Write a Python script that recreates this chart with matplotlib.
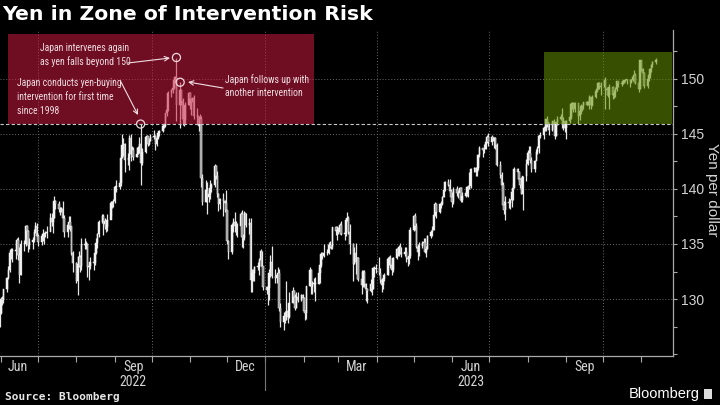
import numpy as np
import pandas as pd
import matplotlib
matplotlib.use('Agg')
import matplotlib.pyplot as plt
import matplotlib.dates as mdates
from matplotlib.patches import Rectangle
from matplotlib.lines import Line2D
from matplotlib import font_manager as fm
from matplotlib.ticker import FixedLocator, MultipleLocator

# ---------------- data (USD/JPY daily) ----------------
first_open = 128.0

close_2022 = [
    128.7,  # May 31
    130.0, 129.9, 130.9, 131.9, 132.6, 134.2, 134.4, 134.4, 134.4, 135.4, 134.0, 132.2, 135.0, 135.0, 136.6, 136.2, 134.9, 135.2, 135.4, 136.1, 136.6, 135.7,
    135.2, 135.7, 135.9, 135.9, 136.0, 136.1, 137.4, 137.0, 137.4, 138.9, 138.6, 138.2, 138.2, 138.2, 137.4, 136.1, 136.7, 137.0, 136.6, 134.2, 133.3,
    131.6, 133.2, 133.8, 133.0, 135.0, 134.9, 135.0, 132.9, 133.0, 133.4, 133.3, 134.2, 135.1, 135.9, 137.0, 137.5, 136.8, 137.1, 136.5, 137.2, 138.7, 138.8, 138.9,
    140.2, 140.2, 140.5, 142.8, 144.0, 144.1, 142.6, 142.8, 144.6, 143.2, 143.5, 142.9, 143.2, 143.7, 144.1, 142.4, 143.4, 144.7, 144.8, 144.1, 144.4, 144.7,
    144.8, 144.1, 144.6, 145.1, 145.3, 145.7, 145.7, 146.9, 147.2, 148.7, 149.0, 149.2, 149.9, 150.2, 147.6, 149.0, 148.0, 146.4, 146.3, 147.6, 148.7,
    148.2, 147.9, 148.3, 146.6, 146.6, 145.7, 146.4, 141.0, 138.8, 139.9, 139.3, 139.5, 140.1, 140.4, 142.1, 141.2, 139.5, 138.6, 139.1, 138.9, 138.7, 138.1,
    135.3, 134.3, 136.7, 137.0, 136.6, 136.6, 136.6, 137.7, 135.6, 135.5, 137.8, 136.7, 136.9, 131.7, 132.4, 132.4, 132.9, 132.9, 133.5, 134.4, 133.0, 131.1,
]
high_2022 = [
    128.9,
    130.2, 130.3, 130.9, 132.0, 133.0, 134.5, 134.6, 134.6, 135.2, 135.5, 135.6, 134.7, 135.4, 135.4, 136.7, 136.7, 136.3, 135.5, 135.6, 136.4, 137.0, 136.9,
    135.9, 135.9, 136.4, 136.0, 136.2, 136.6, 137.8, 137.8, 137.6, 139.4, 139.0, 138.9, 138.4, 138.4, 138.9, 137.6, 136.8, 137.5, 137.5, 136.6, 134.4,
    133.4, 133.9, 134.4, 134.0, 135.5, 135.5, 135.3, 135.1, 133.3, 133.8, 133.8, 134.6, 135.5, 136.0, 137.2, 137.7, 137.7, 137.4, 137.2, 137.7, 138.9, 138.9, 139.1,
    140.3, 140.8, 140.8, 143.1, 145.0, 144.6, 144.2, 143.3, 144.9, 145.0, 143.9, 143.8, 143.8, 143.9, 144.7, 145.9, 143.7, 144.8, 144.9, 144.8, 144.6, 145.0,
    145.4, 144.9, 144.9, 145.3, 145.4, 145.9, 146.0, 146.9, 147.7, 148.9, 149.1, 149.3, 149.9, 150.3, 151.9, 149.7, 149.1, 148.3, 146.9, 147.9, 148.8,
    148.8, 148.3, 148.4, 148.5, 147.4, 146.6, 146.8, 146.6, 141.4, 140.8, 140.6, 139.8, 140.8, 140.5, 142.3, 142.2, 141.6, 139.6, 139.2, 139.6, 139.0, 139.9,
    138.1, 135.4, 136.9, 137.4, 137.9, 137.1, 136.9, 137.9, 138.1, 135.9, 138.0, 137.8, 137.4, 137.4, 132.7, 132.7, 133.0, 133.4, 133.7, 134.5, 134.4, 133.0,
]
low_2022 = [
    127.5,
    128.6, 129.5, 129.6, 130.6, 131.8, 132.5, 133.6, 133.4, 133.6, 134.1, 133.5, 131.5, 132.2, 134.4, 134.8, 135.2, 134.3, 134.5, 134.5, 135.2, 136.0, 135.5,
    134.8, 134.9, 135.3, 135.0, 135.6, 135.5, 136.2, 136.6, 136.0, 137.4, 138.2, 137.9, 137.6, 137.9, 137.3, 135.6, 135.6, 136.4, 136.2, 134.0, 132.5,
    131.5, 130.4, 132.9, 132.5, 132.6, 134.5, 134.5, 132.0, 131.7, 132.7, 132.6, 133.1, 134.1, 134.6, 135.6, 136.9, 135.8, 136.4, 136.1, 136.2, 137.5, 138.3, 138.4,
    138.7, 139.7, 140.0, 140.3, 142.8, 143.0, 141.5, 142.2, 141.7, 142.5, 143.0, 142.6, 142.9, 143.2, 143.3, 140.4, 142.2, 143.3, 144.3, 143.9, 144.0, 144.4,
    144.5, 143.5, 143.9, 144.5, 144.8, 145.2, 145.5, 145.6, 146.6, 147.1, 148.4, 148.7, 149.1, 149.7, 146.2, 145.5, 147.6, 145.8, 145.7, 145.9, 147.6,
    147.3, 146.7, 147.3, 146.4, 145.9, 145.3, 145.2, 140.2, 138.5, 138.8, 137.7, 138.8, 139.1, 139.7, 140.2, 140.9, 139.3, 138.0, 138.2, 137.5, 137.9, 137.9,
    135.0, 133.6, 134.1, 136.1, 136.1, 135.8, 135.6, 136.3, 134.7, 134.6, 135.4, 136.5, 135.9, 130.6, 130.6, 131.6, 131.6, 132.6, 132.2, 133.0, 132.8, 130.8,
]

close_2023 = [
    130.8, 131.0, 132.4, 133.4, 132.1, 131.9, 132.2, 132.4, 129.2, 127.9, 128.5, 128.1, 128.9, 128.4, 129.6, 130.7, 130.2, 129.2, 130.2, 129.9, 130.4, 130.1,
    128.9, 128.7, 131.2, 132.6, 131.1, 131.4, 131.4, 131.4, 132.4, 133.1, 134.1, 133.9, 134.2, 134.2, 134.9, 134.9, 134.7, 136.5, 136.2, 136.2,
    136.1, 136.7, 135.9, 135.9, 137.2, 137.4, 136.1, 135.0, 133.2, 134.2, 133.4, 133.7, 131.8, 131.3, 132.5, 131.4, 130.9, 130.7, 131.4, 130.9, 132.8, 132.7, 132.8,
    132.4, 131.7, 131.3, 131.8, 132.2, 133.6, 133.7, 133.1, 132.6, 133.7, 134.5, 134.1, 134.7, 134.2, 134.1, 134.3, 133.7, 133.6, 133.9, 136.3,
    137.5, 136.6, 134.7, 134.3, 134.8, 135.1, 135.2, 134.3, 134.5, 135.7, 136.1, 136.3, 137.6, 138.6, 137.9, 138.6, 138.6, 139.3, 139.9, 140.6, 140.4, 139.8, 139.3,
    138.8, 140.0, 139.6, 139.6, 140.1, 139.0, 139.4, 139.6, 140.2, 140.0, 140.3, 141.8, 141.9, 141.5, 141.9, 143.1, 143.7, 143.5, 143.6, 144.3, 144.7, 144.3,
    144.7, 144.5, 144.6, 144.0, 142.2, 141.3, 140.4, 138.5, 138.1, 138.8, 138.7, 139.0, 139.7, 140.1, 141.8, 141.5, 140.9, 140.4, 139.5, 141.2, 142.3,
    143.3, 143.3, 142.6, 141.8, 142.5, 143.4, 143.7, 144.8, 144.9, 145.5, 145.6, 146.4, 146.1, 145.4, 146.2, 145.9, 144.8, 146.1, 146.4, 146.5, 145.9, 146.2, 145.5,
    146.2, 146.5, 147.7, 147.7, 147.3, 147.8, 146.6, 147.1, 147.5, 147.5, 147.9, 147.6, 147.9, 148.4, 147.6, 148.4, 148.9, 149.1, 149.6, 149.3, 149.4,
    149.9, 149.0, 149.1, 148.5, 149.3, 148.5, 148.7, 149.1, 149.8, 149.6, 149.5, 149.8, 149.8, 149.9, 149.9, 149.7, 149.9, 150.2, 150.4, 149.6, 149.1, 151.7,
    150.9, 150.5, 149.4, 150.0, 150.4, 150.9, 151.3, 151.5, 151.7,
]
high_2023 = [
    131.2, 131.0, 132.7, 134.0, 134.8, 132.7, 132.3, 132.9, 132.7, 129.6, 128.8, 128.9, 131.6, 129.0, 130.6, 131.1, 130.8, 130.5, 130.6, 130.6, 130.5, 130.5,
    130.2, 129.0, 131.2, 132.9, 132.7, 131.6, 131.9, 132.0, 132.9, 133.3, 134.3, 134.3, 135.0, 134.5, 135.2, 135.3, 134.9, 136.5, 136.6, 136.6,
    136.5, 136.9, 137.1, 136.2, 137.4, 137.9, 137.5, 136.8, 135.1, 134.7, 135.1, 133.8, 133.8, 132.6, 132.6, 132.6, 131.5, 131.0, 131.8, 131.5, 132.9, 133.0, 133.2,
    133.8, 132.8, 131.9, 132.0, 132.4, 133.8, 133.9, 134.0, 133.4, 133.8, 134.6, 134.7, 134.9, 135.1, 134.7, 134.7, 134.7, 133.9, 134.2, 136.5,
    137.6, 137.8, 136.9, 135.0, 135.2, 135.3, 135.5, 135.5, 134.8, 135.8, 136.3, 136.6, 137.7, 138.8, 138.7, 138.7, 138.9, 139.4, 140.2, 140.7, 140.9, 140.9, 140.0,
    139.7, 140.2, 140.3, 139.9, 140.2, 140.2, 139.7, 139.8, 140.3, 140.4, 141.5, 141.9, 142.0, 142.0, 141.9, 143.2, 143.9, 143.7, 144.1, 144.5, 144.9, 145.1,
    144.9, 144.7, 144.7, 144.7, 144.2, 142.5, 141.5, 140.6, 138.9, 139.4, 139.2, 139.1, 140.0, 140.5, 142.0, 141.9, 141.6, 141.0, 141.1, 141.2, 142.7,
    143.5, 143.9, 143.9, 142.9, 142.6, 143.6, 143.9, 144.9, 145.2, 145.6, 145.9, 146.4, 146.6, 146.0, 146.2, 146.4, 146.0, 146.1, 146.6, 146.8, 147.4, 146.5, 146.2,
    146.3, 146.6, 147.8, 147.9, 147.9, 147.9, 147.0, 147.2, 147.7, 147.6, 147.9, 148.0, 148.0, 148.5, 148.4, 148.5, 149.0, 149.2, 149.7, 149.7, 149.7,
    149.9, 150.2, 149.3, 149.3, 149.5, 149.4, 149.0, 149.3, 149.8, 149.8, 149.7, 149.9, 149.9, 150.0, 150.0, 150.0, 150.0, 150.3, 150.8, 150.5, 149.8, 151.7,
    151.7, 151.0, 150.6, 150.2, 150.6, 151.0, 151.4, 151.6, 151.9,
]
low_2023 = [
    130.5, 129.5, 129.9, 132.0, 131.9, 131.5, 131.5, 131.8, 128.9, 127.5, 127.2, 127.8, 128.1, 127.8, 128.3, 129.6, 129.8, 129.0, 129.2, 129.7, 129.8, 129.9,
    128.8, 128.1, 128.2, 131.2, 130.5, 130.5, 130.6, 129.8, 131.4, 131.5, 132.9, 133.6, 133.8, 134.0, 134.1, 134.6, 134.5, 134.5, 135.8, 135.4,
    135.9, 135.9, 135.8, 135.4, 135.7, 137.1, 135.9, 134.1, 131.6, 133.2, 132.3, 131.8, 131.6, 130.5, 131.1, 131.1, 129.8, 129.6, 130.6, 130.4, 130.9, 132.0, 132.4,
    132.2, 131.5, 130.6, 130.9, 131.6, 132.2, 133.1, 132.8, 132.2, 132.5, 133.6, 133.9, 133.9, 134.1, 133.8, 133.9, 133.4, 133.0, 133.2, 133.7,
    136.2, 136.3, 134.6, 133.5, 133.9, 134.6, 134.8, 134.2, 133.8, 134.5, 135.5, 135.7, 136.3, 137.5, 137.4, 137.8, 138.3, 138.5, 139.3, 139.8, 140.3, 139.6, 138.9,
    138.4, 138.6, 139.4, 139.2, 139.0, 138.8, 138.8, 139.3, 139.4, 139.3, 140.0, 140.1, 141.5, 141.2, 141.2, 141.7, 142.9, 142.9, 143.3, 143.6, 144.2, 143.9,
    144.0, 144.4, 143.7, 143.6, 142.1, 141.0, 139.8, 138.2, 137.7, 137.2, 138.3, 138.2, 138.4, 139.0, 140.1, 140.9, 140.6, 140.1, 139.5, 138.1, 140.7,
    142.2, 142.8, 142.4, 141.5, 141.5, 142.6, 143.2, 143.3, 144.6, 144.5, 145.3, 145.3, 145.6, 144.9, 145.3, 145.5, 144.5, 144.8, 145.8, 146.3, 145.5, 145.4, 145.2,
    144.5, 146.0, 146.4, 147.3, 147.0, 147.0, 145.9, 146.3, 146.8, 147.1, 147.3, 147.6, 147.6, 147.3, 147.3, 147.5, 148.3, 148.8, 149.1, 149.1, 148.5,
    149.3, 147.3, 148.5, 148.4, 147.3, 148.2, 148.3, 148.4, 148.9, 149.3, 149.4, 149.5, 149.6, 149.7, 149.5, 149.3, 149.6, 149.8, 150.1, 149.5, 148.8, 149.1,
    150.7, 150.2, 149.2, 149.2, 149.8, 150.1, 150.6, 151.1, 151.4,
]

month_labels = ['Jun', 'Sep', 'Dec', 'Mar', 'Jun', 'Sep']
month_label_dates = ['2022-06-15', '2022-09-16', '2022-12-16', '2023-03-16', '2023-06-16', '2023-09-16']
year_labels = ['2022', '2023']
year_label_dates = ['2022-09-16', '2023-06-16']
y_ticks = [130, 135, 140, 145, 150]

intervention_dates = ['2022-09-22', '2022-10-21', '2022-10-24']
intervention_levels = [145.9, 151.95, 149.7]
zone_level = 145.9

# ---------------- fonts ----------------
def pick(fams):
    for f in fams:
        try:
            fm.findfont(fm.FontProperties(family=f), fallback_to_default=False)
            return f
        except Exception:
            pass
    return 'DejaVu Sans'

narrow = pick(['Liberation Sans Narrow', 'Roboto Condensed', 'Liberation Sans'])
sans = pick(['Liberation Sans', 'DejaVu Sans'])

# ---------------- figure ----------------
W, H = 720, 405
fig = plt.figure(figsize=(7.2, 4.05), dpi=100, facecolor='black')
ax = fig.add_axes([0 / W, (H - 356) / H, 673 / W, (356 - 30) / H])
ax.set_facecolor('black')

d22 = pd.bdate_range('2022-05-31', periods=len(close_2022))
d23 = pd.bdate_range('2023-01-02', periods=len(close_2023))
x = mdates.date2num(list(d22) + list(d23))
close = np.array(close_2022 + close_2023)
high = np.array(high_2022 + high_2023)
low = np.array(low_2022 + low_2023)
opn = np.concatenate([[first_open], close[:-1]])
up = close >= opn
face = np.where(up, '#f4f4f4', '#9a9a9a')

ax.vlines(x, low, high, colors='#e6e6e6', lw=0.9, zorder=3)
bottom = np.minimum(opn, close)
height = np.maximum(np.abs(close - opn), 0.08)
ax.bar(x, height, bottom=bottom, width=1.15, color=face, edgecolor='#f0f0f0',
       linewidth=0.35, zorder=3)

x0 = mdates.date2num(pd.Timestamp('2022-05-31')) + 0.3
x1 = mdates.date2num(pd.Timestamp('2023-11-26')) + 0.6
ax.set_xlim(x0, x1)
ax.set_ylim(124.82, 154.45)

# zone boxes
rx0 = mdates.date2num(pd.Timestamp('2022-06-06')) + 0.5
rx1 = mdates.date2num(pd.Timestamp('2023-02-09')) + 0.6
ax.add_patch(Rectangle((rx0, zone_level), rx1 - rx0, 154.1 - zone_level,
                       facecolor='#cc1b40', alpha=0.55, lw=0, zorder=4))
gx0 = mdates.date2num(pd.Timestamp('2023-08-14')) + 0.6
gx1 = mdates.date2num(pd.Timestamp('2023-11-25')) + 0.8
ax.add_patch(Rectangle((gx0, zone_level), gx1 - gx0, 152.45 - zone_level,
                       facecolor='#649100', alpha=0.55, lw=0, zorder=4))
ax.axhline(zone_level, color='#c8c8c8', lw=0.8, ls=(0, (3, 2)), zorder=5)

# grid / ticks
ax.xaxis.set_major_locator(mdates.MonthLocator(bymonth=[1, 4, 7, 10]))
ax.xaxis.set_minor_locator(mdates.MonthLocator())
ax.xaxis.set_major_formatter(plt.NullFormatter())
ax.yaxis.tick_right()
ax.yaxis.set_major_locator(FixedLocator(y_ticks))
ax.yaxis.set_minor_locator(MultipleLocator(2.5))
ax.grid(True, which='major', color='#6a6a6a', lw=0.7, ls=(0, (1, 2)), zorder=1)
ax.tick_params(axis='x', which='both', colors='#aaaaaa', length=4, width=0.8)
ax.tick_params(axis='y', which='both', colors='#aaaaaa', length=3, width=0.8,
               labelcolor='#d4d4d4', labelsize=10, pad=3)
for lbl in ax.get_yticklabels():
    lbl.set_family(sans)
for s in ['top', 'left']:
    ax.spines[s].set_visible(False)
for s in ['right', 'bottom']:
    ax.spines[s].set_color('#aaaaaa')
    ax.spines[s].set_linewidth(0.9)

# month / year labels
tr = ax.get_xaxis_transform()
for lab, d in zip(month_labels, month_label_dates):
    ax.text(mdates.date2num(pd.Timestamp(d)), 1 - (367 - 30) / (356 - 30), lab,
            transform=tr, ha='center', va='center', color='#d4d4d4',
            fontsize=10, family=narrow)
for lab, d in zip(year_labels, year_label_dates):
    ax.text(mdates.date2num(pd.Timestamp(d)), 1 - (382 - 30) / (356 - 30), lab,
            transform=tr, ha='center', va='center', color='#d4d4d4',
            fontsize=10, family=narrow)
yx = mdates.date2num(pd.Timestamp('2023-01-01'))
ax.add_line(Line2D([yx, yx], [0, 1 - (390 - 30) / (356 - 30)], transform=tr,
                   color='#777777', lw=0.8, clip_on=False))

# y label
fig.text(712 / W, 1 - 190 / H, 'Yen per dollar', rotation=-90, ha='center',
         va='center', color='#d4d4d4', fontsize=11, family=sans)

# intervention markers
ix = mdates.date2num(pd.to_datetime(intervention_dates))
ax.scatter(ix, intervention_levels, s=34, facecolors='none',
           edgecolors='#eed8dc', linewidths=0.9, zorder=6)

acol = '#efdde1'
fig.text(40 / W, 1 - 55 / H, 'Japan intervenes again\nas yen falls beyond 150',
         ha='left', va='center', color=acol, fontsize=7, family=narrow,
         linespacing=1.45)
fig.text(17 / W, 1 - 97 / H,
         'Japan conducts yen-buying\nintervention for first time\nsince 1998',
         ha='left', va='center', color=acol, fontsize=7, family=narrow,
         linespacing=1.45)
fig.text(225 / W, 1 - 86 / H, 'Japan follows up with\nanother intervention',
         ha='left', va='center', color=acol, fontsize=7, family=narrow,
         linespacing=1.45)
arrows = [((128, H - 63), (170, H - 58)),
          ((121, H - 82), (138, H - 115)),
          ((223, H - 88), (188, H - 82))]
for (sx, sy), (ex, ey) in arrows:
    ax.annotate('', xy=(ex, ey), xycoords='figure pixels',
                xytext=(sx, sy), textcoords='figure pixels',
                arrowprops=dict(arrowstyle='->', color=acol, lw=0.8,
                                shrinkA=0, shrinkB=0, mutation_scale=8),
                zorder=7)

# title and footer
fig.text(2 / W, 1 - 15 / H, 'Yen in Zone of Intervention Risk', ha='left',
         va='center', color='white', fontsize=14.7, fontweight='bold',
         family='DejaVu Sans')
fig.text(5 / W, 1 - 397 / H, 'Source: Bloomberg', ha='left', va='center',
         color='#e8e8e8', fontsize=8, fontweight='bold', family='DejaVu Sans Mono')
fig.text(700 / W, 1 - 394 / H, 'Bloomberg', ha='right', va='center',
         color='white', fontsize=10.5, family=sans)
fig.patches.append(Rectangle((704 / W, 1 - 399 / H), 8 / W, 10 / H,
                             transform=fig.transFigure, facecolor='#dddddd',
                             edgecolor='none'))

fig.savefig('out.png', dpi=100, facecolor='black')
